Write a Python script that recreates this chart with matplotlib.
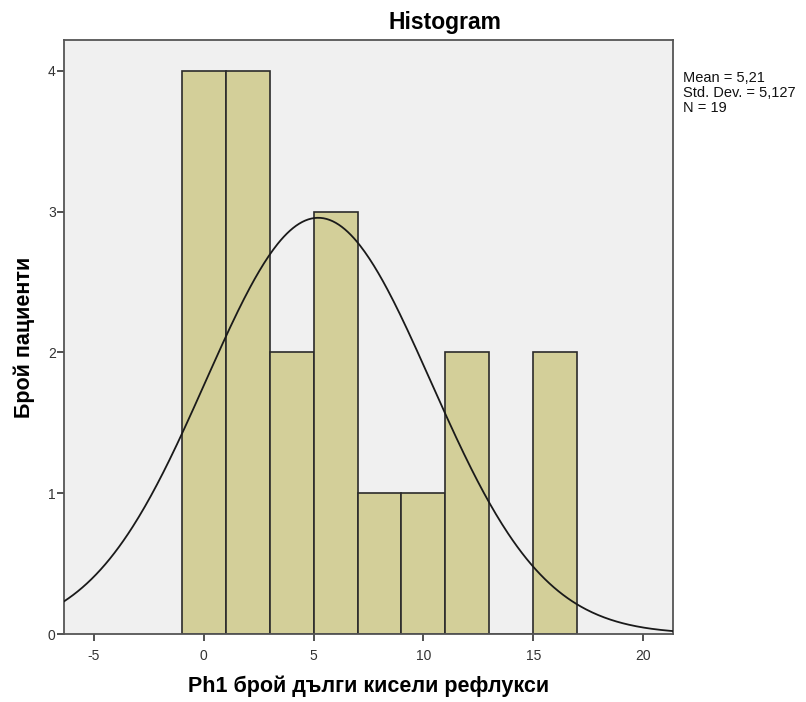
import numpy as np
import matplotlib
matplotlib.use("Agg")
import matplotlib.pyplot as plt

plt.rcParams['font.family'] = ['Liberation Sans', 'DejaVu Sans']

# Histogram bins (width 2) and patient counts
bin_edges = [-1, 1, 3, 5, 7, 9, 11, 13, 15, 17]
counts = [4, 4, 2, 3, 1, 1, 2, 0, 2]
mean_val = 5.21
std_val = 5.127
n_val = 19
x_ticks = [-5, 0, 5, 10, 15, 20]
y_ticks = [0, 1, 2, 3, 4]

fig = plt.figure(figsize=(8.06, 7.02), dpi=100)
ax = fig.add_axes([64 / 806, 1 - 634 / 702, (673 - 64) / 806, (634 - 40) / 702])
ax.set_facecolor('#F0F0F0')

widths = np.diff(bin_edges)
ax.bar(bin_edges[:-1], counts, width=widths, align='edge',
       color='#D3CF99', edgecolor='#2B2B2B', linewidth=1.2, zorder=2)

# Normal curve scaled to counts
xlim = (-6.36, 21.36)
xs = np.linspace(xlim[0], xlim[1], 400)
bw = widths[0]
ys = n_val * bw / (std_val * np.sqrt(2 * np.pi)) * np.exp(-0.5 * ((xs - mean_val) / std_val) ** 2)
ax.plot(xs, ys, color='#1A1A1A', linewidth=1.3, zorder=3)

ax.set_xlim(*xlim)
ax.set_ylim(0, 4.22)
ax.set_xticks(x_ticks)
ax.set_yticks(y_ticks)
ax.set_xticklabels([str(t) for t in x_ticks])
ax.set_yticklabels([str(t) for t in y_ticks])
ax.tick_params(axis='both', labelsize=10, colors='#333333', length=5, width=1.2)
ax.tick_params(axis='x', pad=6)
ax.tick_params(axis='y', pad=1)
for side in ax.spines.values():
    side.set_color('#555555')
    side.set_linewidth(1.3)

fig.text(445 / 806, 1 - 29 / 702, 'Histogram', fontsize=16.5, fontweight='bold',
         ha='center', va='baseline')
ax.set_xlabel('Ph1 брой дълги кисели рефлукси', fontsize=15.5, fontweight='bold', labelpad=9)
ax.set_ylabel('Брой пациенти', fontsize=15.5, fontweight='bold', labelpad=9)

fig.text(683 / 806, 1 - 71 / 702,
         'Mean = 5,21\nStd. Dev. = 5,127\nN = 19',
         fontsize=10.5, va='top', ha='left', linespacing=1.1, color='#111111')

fig.savefig('out.png', dpi=100)
